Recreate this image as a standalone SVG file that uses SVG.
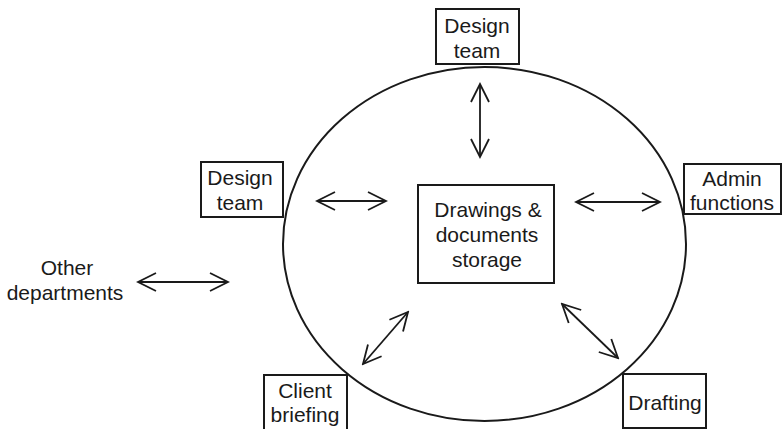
<svg xmlns="http://www.w3.org/2000/svg" width="782" height="429" viewBox="0 0 782 429">
<style>
.box{fill:#fff;stroke:#1a1a1a;stroke-width:2}
.t{font-family:"Liberation Sans",Arial,sans-serif;font-size:21px;fill:#1a1a1a;text-anchor:middle}
.arr{fill:none;stroke:#1a1a1a;stroke-width:1.8;marker-start:url(#ah);marker-end:url(#ah)}
</style>
<defs>
<marker id="ah" markerUnits="userSpaceOnUse" viewBox="-20 -11 22 22" markerWidth="22" markerHeight="22" refX="0" refY="0" orient="auto-start-reverse">
<path d="M-18,-9 L0,0 L-18,9" fill="none" stroke="#1a1a1a" stroke-width="1.8"/>
</marker>
</defs>
<rect width="782" height="429" fill="#fff"/>
<ellipse id="circle" cx="484.5" cy="244" rx="201.5" ry="177" fill="none" stroke="#1a1a1a" stroke-width="2"/>
<g id="storage">
<rect class="box" x="418" y="185" width="136" height="98"/>
<text class="t" x="488" y="217">Drawings &amp;</text>
<text class="t" x="487" y="242">documents</text>
<text class="t" x="487" y="267">storage</text>
</g>
<g id="design-team-top">
<rect class="box" x="436" y="9" width="83" height="55"/>
<text class="t" x="477" y="33">Design</text>
<text class="t" x="477" y="58">team</text>
</g>
<g id="design-team-left">
<rect class="box" x="201" y="162" width="82" height="55"/>
<text class="t" x="240" y="185">Design</text>
<text class="t" x="240" y="210">team</text>
</g>
<g id="admin">
<rect class="box" x="684" y="164" width="97" height="50"/>
<text class="t" x="732" y="186">Admin</text>
<text class="t" x="732" y="210">functions</text>
</g>
<g id="other">
<text class="t" x="67" y="275">Other</text>
<text class="t" x="65" y="300">departments</text>
</g>
<g id="client">
<rect class="box" x="264" y="375" width="83" height="60"/>
<text class="t" x="305" y="398">Client</text>
<text class="t" x="305" y="422">briefing</text>
</g>
<g id="drafting">
<rect class="box" x="623" y="374" width="83" height="54"/>
<text class="t" x="665" y="410">Drafting</text>
</g>
<g id="connectors">
<line class="arr" x1="480" y1="84" x2="480" y2="157"/>
<line class="arr" x1="317" y1="201" x2="386" y2="201"/>
<line class="arr" x1="576" y1="202" x2="660" y2="202"/>
<line class="arr" x1="138" y1="282" x2="228" y2="282"/>
<line class="arr" x1="408" y1="312" x2="363" y2="364"/>
<line class="arr" x1="562" y1="304" x2="618" y2="358"/>
</g>
</svg>
